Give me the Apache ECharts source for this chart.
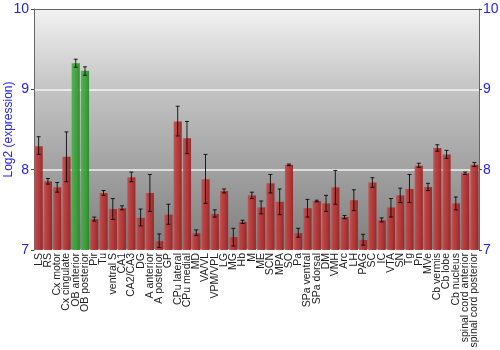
<!DOCTYPE html>
<html>
<head>
<meta charset="utf-8">
<script src="https://cdn.jsdelivr.net/npm/echarts@6/dist/echarts.min.js"></script>
<style>html,body{margin:0;padding:0;background:#fff}#c{width:500px;height:350px}</style>
</head>
<body>
<div id="c"></div>
<script>
var categories = ["LS","RS","Cx motor","Cx cingulate","OB anterior","OB posterior","Pir","Tu","ventral S","CA1","CA2/CA3","DG","A anterior","A posterior","GP","CPu lateral","CPu medial","MD","VA/VL","VPM/VPL","LG","MG","Hb","M","ME","SCN","MPA","SO","Pa","SPa ventral","SPa dorsal","DM","VMH","Arc","LH","PAG","SC","IC","VTA","SN","Tg","Pn","MVe","Cb vermis","Cb lobe","Cb nucleus","spinal cord anterior","spinal cord posterior"];
var values = [8.29,7.855,7.78,8.16,9.325,9.23,7.386,7.71,7.51,7.52,7.905,7.40,7.71,7.11,7.44,8.60,8.39,7.21,7.88,7.45,7.735,7.16,7.35,7.68,7.53,7.83,7.60,8.06,7.21,7.52,7.61,7.58,7.78,7.41,7.62,7.125,7.84,7.37,7.53,7.68,7.76,8.05,7.785,8.27,8.19,7.58,7.955,8.06];
var errLow = [8.19,7.82,7.72,7.85,9.275,9.175,7.36,7.68,7.38,7.50,7.85,7.30,7.48,7.03,7.32,8.42,8.20,7.18,7.58,7.41,7.71,7.05,7.33,7.64,7.45,7.71,7.44,8.05,7.16,7.41,7.60,7.48,7.57,7.39,7.49,7.06,7.78,7.35,7.41,7.59,7.59,8.03,7.74,8.23,8.14,7.50,7.94,8.04];
var errHigh = [8.41,7.89,7.84,8.47,9.375,9.28,7.41,7.74,7.64,7.55,7.97,7.51,7.94,7.20,7.57,8.79,8.60,7.25,8.19,7.50,7.76,7.27,7.37,7.72,7.61,7.94,7.76,8.07,7.27,7.63,7.62,7.68,7.99,7.43,7.75,7.195,7.90,7.40,7.64,7.77,7.94,8.08,7.83,8.31,8.24,7.66,7.97,8.09];
var greenCats = ["OB anterior","OB posterior"];
var yTicks = [7,8,9,10];

var redGrad = new echarts.graphic.LinearGradient(0,0,1,0,[
  {offset:0,color:'#c45454'},{offset:0.25,color:'#bd3c3c'},{offset:0.6,color:'#b23030'},{offset:1,color:'#962222'}]);
var greenGrad = new echarts.graphic.LinearGradient(0,0,1,0,[
  {offset:0,color:'#4cb04c'},{offset:0.3,color:'#3ea63e'},{offset:0.6,color:'#33a033'},{offset:1,color:'#248624'}]);

var barData = values.map(function(v,i){
  return {value:v, itemStyle:{color: greenCats.indexOf(categories[i])>=0 ? greenGrad : redGrad}};
});
var errData = values.map(function(v,i){ return [i, errLow[i], errHigh[i]]; });

var chart = echarts.init(document.getElementById('c'), null, {renderer:'canvas'});
chart.setOption({
  animation:false,
  grid:{left:34,right:21,top:9,bottom:100,show:true,borderWidth:0,containLabel:false,outerBoundsMode:'none',
    backgroundColor:new echarts.graphic.LinearGradient(0,0,0,1,[
      {offset:0,color:'#f2f2f2'},{offset:0.33,color:'#c4c4c4'},{offset:0.66,color:'#a2a2a2'},{offset:1,color:'#7e7e7e'}])},
  xAxis:[{type:'category',data:categories,position:'bottom',
    axisLine:{show:false},axisTick:{show:false},
    axisLabel:{rotate:90,interval:0,fontSize:10.5,color:'#222',fontFamily:'Liberation Sans, Arial',margin:3}},
   {type:'category',data:categories,position:'top',
    axisLine:{show:true,lineStyle:{color:'#666'}},axisTick:{show:false},axisLabel:{show:false}}],
  yAxis:[{type:'value',min:7,max:10,interval:1,position:'left',
    name:'Log2 (expression)',nameLocation:'middle',nameGap:19,nameMoveOverlap:false,
    nameTextStyle:{color:'#2222ee',fontSize:12,fontFamily:'Liberation Sans, Arial'},
    axisLine:{show:true,lineStyle:{color:'#666'}},axisTick:{show:true,length:3,lineStyle:{color:'#444'}},
    axisLabel:{color:'#2222ee',fontSize:14,margin:5,fontFamily:'Liberation Sans, Arial'},
    splitLine:{show:true,lineStyle:{color:'rgba(255,255,255,0.85)',width:1.5}}},
   {type:'value',min:7,max:10,interval:1,position:'right',
    axisLine:{show:true,lineStyle:{color:'#666'}},axisTick:{show:true,length:3,lineStyle:{color:'#444'}},
    axisLabel:{color:'#2222ee',fontSize:14,margin:4,fontFamily:'Liberation Sans, Arial'},
    splitLine:{show:false}}],
  series:[
    {type:'bar',data:barData,barCategoryGap:'12%',xAxisIndex:0,yAxisIndex:0,
     itemStyle:{opacity:0.92}},
    {type:'custom',xAxisIndex:0,yAxisIndex:0,data:errData,z:5,
     renderItem:function(params,api){
       var x = api.coord([api.value(0), api.value(1)]);
       var y2 = api.coord([api.value(0), api.value(2)]);
       var cx = x[0], hw=2;
       var st = {stroke:'rgba(0,0,0,0.85)',lineWidth:1};
       return {type:'group',children:[
         {type:'line',shape:{x1:cx,y1:x[1],x2:cx,y2:y2[1]},style:st},
         {type:'line',shape:{x1:cx-hw,y1:x[1],x2:cx+hw,y2:x[1]},style:st},
         {type:'line',shape:{x1:cx-hw,y1:y2[1],x2:cx+hw,y2:y2[1]},style:st}
       ]};
     }}
  ]
});
</script>
</body>
</html>
